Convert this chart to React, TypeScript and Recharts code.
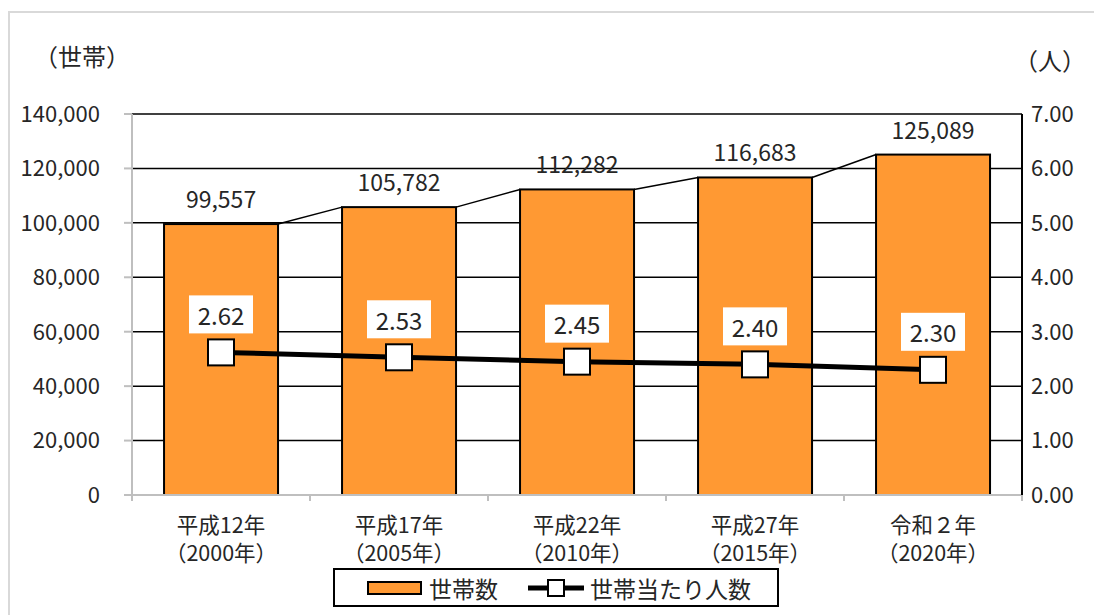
import React from "react";
import {
  ComposedChart,
  Bar,
  Line,
  XAxis,
  YAxis,
  CartesianGrid,
  LabelList,
  Legend,
} from "recharts";

// Census years (era name + western year)
const eraLabels = ["平成12年", "平成17年", "平成22年", "平成27年", "令和２年"];
const yearLabels = ["（2000年）", "（2005年）", "（2010年）", "（2015年）", "（2020年）"];
// Number of households
const households = [99557, 105782, 112282, 116683, 125089];
// Persons per household
const personsPerHousehold = [2.62, 2.53, 2.45, 2.4, 2.3];

const leftTicks = [0, 20000, 40000, 60000, 80000, 100000, 120000, 140000];
const rightTicks = [0, 1, 2, 3, 4, 5, 6, 7];

const data = eraLabels.map((era, i) => ({
  era,
  year: yearLabels[i],
  households: households[i],
  persons: personsPerHousehold[i],
}));

const CHART_W = 1094;
const CHART_H = 615;
const LEFT_AXIS_W = 132;
const RIGHT_AXIS_W = 72;
const PLOT_W = CHART_W - LEFT_AXIS_W - RIGHT_AXIS_W;
const STEP = PLOT_W / eraLabels.length;
const BAR_GAP = 0.18;

const FONT = "'Noto Sans CJK JP', 'Noto Sans', sans-serif";
const TEXT = "#262626";
const ORANGE = "#FF9933";
const AXIS_GREY = "#bfbfbf";

// Bar with the Excel-style series line joining its top to the next bar's top
function BarWithSeriesLine(props: any) {
  const { x, y, width, height, index } = props;
  const value = households[index];
  const next = households[index + 1];
  const base = y + height;
  const step = width / (1 - 2 * BAR_GAP);
  return (
    <g>
      <rect x={x} y={y} width={width} height={height} fill={ORANGE} stroke="#000" strokeWidth={2} />
      {next !== undefined && value > 0 && (
        <line
          x1={x + width}
          y1={y}
          x2={x + step}
          y2={base - (next / value) * height}
          stroke="#000"
          strokeWidth={1.5}
        />
      )}
    </g>
  );
}

function BarValueLabel(props: any) {
  const { x, y, width, value } = props;
  return (
    <text
      x={x + width / 2}
      y={y - 26}
      textAnchor="middle"
      dominantBaseline="central"
      fontSize={23}
      fontFamily={FONT}
      fill={TEXT}
    >
      {Number(value).toLocaleString("en-US")}
    </text>
  );
}

function SquareDot(props: any) {
  const { cx, cy } = props;
  const s = 26;
  return <rect x={cx - s / 2} y={cy - s / 2} width={s} height={s} fill="#fff" stroke="#000" strokeWidth={2} />;
}

function PersonsLabel(props: any) {
  const { x, y, value } = props;
  return (
    <g>
      <rect x={x - 32} y={y - 57} width={64} height={38} fill="#fff" />
      <text
        x={x}
        y={y - 38}
        textAnchor="middle"
        dominantBaseline="central"
        fontSize={24}
        fontFamily={FONT}
        fill={TEXT}
      >
        {Number(value).toFixed(2)}
      </text>
    </g>
  );
}

function CategoryTick(props: any) {
  const { x, y, index, payload } = props;
  const i = index ?? eraLabels.indexOf(payload.value);
  return (
    <g>
      <line x1={x - STEP / 2} y1={y} x2={x - STEP / 2} y2={y + 6} stroke={AXIS_GREY} strokeWidth={2} />
      {i === eraLabels.length - 1 && (
        <line x1={x + STEP / 2} y1={y} x2={x + STEP / 2} y2={y + 6} stroke={AXIS_GREY} strokeWidth={2} />
      )}
      <text x={x} y={y + 28} textAnchor="middle" dominantBaseline="central" fontSize={21.5} fontFamily={FONT} fill={TEXT}>
        {payload.value}
      </text>
      <text x={x} y={y + 56} textAnchor="middle" dominantBaseline="central" fontSize={21.5} fontFamily={FONT} fill={TEXT}>
        {yearLabels[i]}
      </text>
    </g>
  );
}

function LegendBox() {
  return (
    <div
      style={{
        width: 446,
        height: 39,
        boxSizing: "border-box",
        border: "2px solid #000",
        background: "#fff",
        display: "flex",
        alignItems: "center",
        fontFamily: FONT,
        fontSize: 23,
        color: TEXT,
        paddingLeft: 32,
      }}
    >
      <svg width={56} height={16} style={{ marginRight: 6 }}>
        <rect x={1} y={2} width={53} height={12} fill={ORANGE} stroke="#000" strokeWidth={2} />
      </svg>
      <span>世帯数</span>
      <svg width={58} height={20} style={{ marginLeft: 30, marginRight: 4 }}>
        <line x1={0} y1={10} x2={56} y2={10} stroke="#000" strokeWidth={5} />
        <rect x={20} y={2} width={16} height={16} fill="#fff" stroke="#000" strokeWidth={2} />
      </svg>
      <span>世帯当たり人数</span>
    </div>
  );
}

export default function App() {
  return (
    <div
      style={{
        position: "absolute",
        left: 0,
        top: 0,
        width: CHART_W,
        height: CHART_H,
        overflow: "hidden",
        background: "#fff",
        fontFamily: FONT,
      }}
    >
      <div
        style={{
          position: "absolute",
          left: 8,
          top: 11,
          width: CHART_W + 20,
          height: CHART_H + 20,
          border: "2px solid #d9d9d9",
        }}
      />
      <div style={{ position: "absolute", left: 34, top: 38, fontSize: 24, color: TEXT, whiteSpace: "nowrap" }}>
        （世帯）
      </div>
      <div style={{ position: "absolute", left: 1014, top: 42, fontSize: 24, color: TEXT, whiteSpace: "nowrap" }}>
        （人）
      </div>
      <ComposedChart
        width={CHART_W}
        height={CHART_H}
        data={data}
        margin={{ top: 114, right: 0, bottom: 50, left: 0 }}
        barCategoryGap={`${BAR_GAP * 100}%`}
        style={{ position: "absolute", left: 0, top: 0 }}
      >
        <CartesianGrid
          yAxisId="left"
          vertical={false}
          stroke="#000"
          strokeWidth={1.5}
          horizontalValues={leftTicks.filter((v) => v > 0)}
        />
        <XAxis
          dataKey="era"
          height={70}
          axisLine={{ stroke: AXIS_GREY, strokeWidth: 2 }}
          tickLine={false}
          tickSize={0}
          tickMargin={0}
          interval={0}
          tick={<CategoryTick />}
        />
        <YAxis
          yAxisId="left"
          orientation="left"
          width={LEFT_AXIS_W}
          domain={[0, 140000]}
          ticks={leftTicks}
          interval={0}
          axisLine={{ stroke: AXIS_GREY, strokeWidth: 2 }}
          tickLine={{ stroke: AXIS_GREY, strokeWidth: 2 }}
          tickSize={8}
          tickMargin={24}
          tick={{ fontSize: 22, fontFamily: FONT, fill: TEXT }}
          tickFormatter={(v: number) => v.toLocaleString("en-US")}
        />
        <YAxis
          yAxisId="right"
          orientation="right"
          width={RIGHT_AXIS_W}
          domain={[0, 7]}
          ticks={rightTicks}
          interval={0}
          axisLine={{ stroke: "#000", strokeWidth: 2 }}
          tickLine={false}
          tickSize={0}
          tickMargin={9}
          tick={{ fontSize: 22, fontFamily: FONT, fill: TEXT }}
          tickFormatter={(v: number) => v.toFixed(2)}
        />
        <Bar yAxisId="left" dataKey="households" shape={<BarWithSeriesLine />} isAnimationActive={false}>
          <LabelList dataKey="households" content={<BarValueLabel />} />
        </Bar>
        <Line
          yAxisId="right"
          dataKey="persons"
          stroke="#000"
          strokeWidth={5}
          dot={<SquareDot />}
          activeDot={false}
          isAnimationActive={false}
        >
          <LabelList dataKey="persons" content={<PersonsLabel />} />
        </Line>
        <Legend
          layout="horizontal"
          verticalAlign="middle"
          align="center"
          content={<LegendBox />}
          wrapperStyle={{ position: "absolute", left: 333, top: 568, width: 446, height: 39 }}
        />
      </ComposedChart>
    </div>
  );
}
